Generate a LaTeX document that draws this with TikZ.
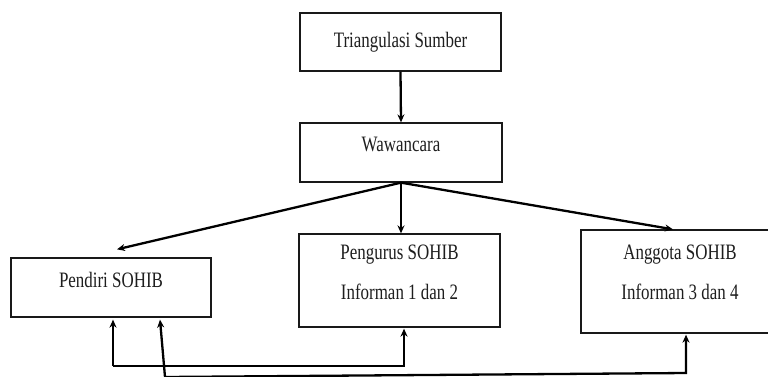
\documentclass[tikz,border=0pt]{standalone}
\usepackage{fontspec}
\setmainfont{Liberation Serif}
\usetikzlibrary{arrows.meta,positioning,calc}
\definecolor{boxline}{RGB}{25,25,25}
\definecolor{inktext}{RGB}{30,30,30}
\newcommand{\sqz}[1]{\scalebox{0.77}[1]{#1}}
\tikzset{
  srcbox/.style={draw=boxline,line width=1.3pt,inner sep=0pt},
  srctext/.style={font=\fontsize{22}{26}\selectfont,color=inktext,
    align=center,inner sep=0pt},
  flow/.style={-{Stealth[length=8pt,width=7pt]},line width=2.3pt,color=black},
}

\begin{document}
\begin{tikzpicture}[x=1pt,y=-1pt]
\useasboundingbox (0,0) rectangle (768,376);
\clip (0,0) rectangle (768,376);
\fill[white] (0,0) rectangle (768,376);
% boxes
\node[srcbox,minimum width=201pt,minimum height=58pt] (tri) at (400.5,42) {};
\node[srcbox,minimum width=202pt,minimum height=59pt] (waw) at (401,152.5) {};
\node[srcbox,minimum width=200pt,minimum height=59pt] (pendiri) at (111,287.5) {};
\node[srcbox,minimum width=201pt,minimum height=93pt] (pengurus) at (399.5,280.5) {};
\node[srcbox,minimum width=198pt,minimum height=103pt] (anggota) at (680,281.5) {};
% texts
\node[srctext] (tri-t) at (tri.center) {\sqz{Triangulasi Sumber}};
\node[srctext] (waw-t) at ([yshift=8pt]waw.center) {\sqz{Wawancara}};
\node[srctext] (pendiri-t) at ([yshift=8pt]pendiri.center) {\sqz{Pendiri SOHIB}};
\node[srctext] (pengurus-t) at ([yshift=8.5pt]pengurus.center)
  {\sqz{Pengurus SOHIB}\\[14pt]\sqz{Informan 1 dan 2}};
\node[srctext] (anggota-t) at ([yshift=9pt]anggota.center)
  {\sqz{Anggota SOHIB}\\[14pt]\sqz{Informan 3 dan 4}};
% arrows down
\draw[flow] (tri.south) -- (waw.north);
\draw[flow] (waw.south) -- ([xshift=6pt,yshift=8pt]pendiri.north);
\draw[flow] (waw.south) -- (waw.south |- pengurus.north);
\draw[flow] (waw.south) -- ([xshift=-7pt]anggota.north);
% arrows back up
\coordinate (fork1) at (113,366);
\coordinate (fork2) at (165,377);
\coordinate (bend2) at (686,373);
\draw[flow] (fork1) -- ([xshift=2pt,yshift=-2pt]pendiri.south);
\draw[flow] (fork1) -| ([xshift=4.5pt,yshift=-1pt]pengurus.south);
\draw[flow] (fork2) -- ([xshift=49pt,yshift=-2pt]pendiri.south);
\draw[flow] (fork2) -- (bend2) -- ([yshift=-1pt]anggota.south -| bend2);
\end{tikzpicture}
\end{document}
